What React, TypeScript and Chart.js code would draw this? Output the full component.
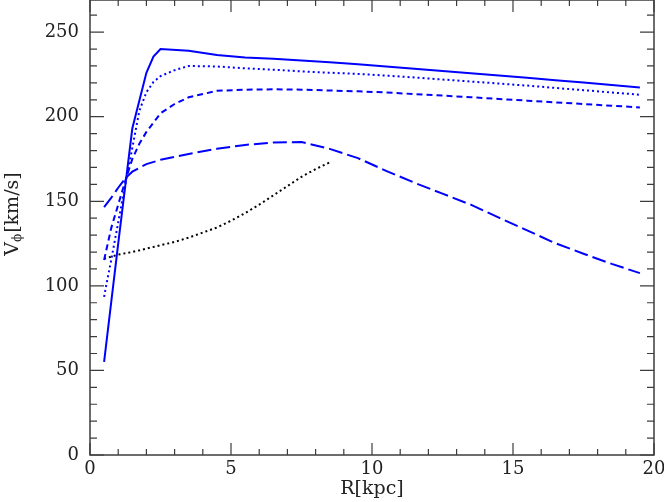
import React, { useEffect, useRef } from "react";
import { Chart, registerables } from "chart.js";

Chart.register(...registerables);

// Solid blue curve
const solidR = [0.5, 1.0, 1.5, 2.0, 2.25, 2.5, 3.5, 4.5, 5.5, 6.5, 7.5, 8.5, 9.5, 10.5, 11.5, 12.5, 13.5, 14.5, 15.5, 16.5, 17.5, 18.5, 19.5];
const solidV = [55, 125, 193, 226, 235.5, 240, 239, 236.5, 235, 234.2, 233.3, 232.2, 231, 229.7, 228.3, 227, 225.7, 224.3, 223, 221.6, 220.2, 218.7, 217.2];

// Blue fine-dotted curve
const dotR = [0.5, 0.6, 0.75, 1.0, 1.25, 1.5, 1.75, 2.0, 2.25, 2.5, 3.0, 3.5, 4.5, 5.5, 6.5, 7.5, 8.5, 9.5, 10.5, 11.5, 12.5, 13.5, 14.5, 15.5, 16.5, 17.5, 18.5, 19.5];
const dotV = [93.5, 102.5, 115, 137.5, 160, 181.5, 203.5, 214.5, 220.5, 224, 227.5, 230, 229.7, 228.6, 227.8, 226.8, 226, 225.3, 224.3, 223.2, 222, 220.8, 219.6, 218.4, 217, 215.7, 214.3, 213];

// Blue short-dashed curve
const shortR = [0.5, 0.75, 1.0, 1.25, 1.5, 1.75, 2.0, 2.5, 3.0, 3.5, 4.5, 5.5, 6.5, 7.5, 8.5, 9.5, 10.5, 11.5, 12.5, 13.5, 14.5, 15.5, 16.5, 17.5, 18.5, 19.5];
const shortV = [115.3, 134, 148, 162, 175, 184, 191, 202, 207.5, 211.5, 215.3, 216, 216.2, 216, 215.5, 215, 214.3, 213.4, 212.5, 211.5, 210.5, 209.5, 208.5, 207.5, 206.5, 205.5];

// Blue long-dashed curve
const longR = [0.5, 0.75, 1.0, 1.25, 1.5, 2.0, 2.5, 3.5, 4.5, 5.5, 6.5, 7.5, 8.5, 9.5, 10.5, 11.5, 12.5, 13.5, 14.5, 15.5, 16.5, 17.5, 18.5, 19.5];
const longV = [146.5, 152, 158, 163.5, 167.5, 172, 174.5, 178, 181, 183.3, 184.8, 185, 181, 175.5, 168, 161, 154.5, 148, 140.3, 132.8, 125.2, 119, 113, 107.5];

// Black dotted curve
const blackR = [0.5, 1.0, 1.5, 2.0, 2.5, 3.0, 3.5, 4.0, 4.5, 5.0, 5.5, 6.0, 6.5, 7.0, 7.5, 8.0, 8.5];
const blackV = [116, 118.5, 120, 122, 124, 126, 128.5, 131.5, 134.5, 138.5, 143, 148, 153.5, 159, 164.5, 169, 173];

// Axes
const xMajor = [0, 5, 10, 15, 20];
const xMinor = [1, 2, 3, 4, 6, 7, 8, 9, 11, 12, 13, 14, 16, 17, 18, 19];
const yMajor = [0, 50, 100, 150, 200, 250];
const yMinor = [10, 20, 30, 40, 60, 70, 80, 90, 110, 120, 130, 140, 160, 170, 180, 190, 210, 220, 230, 240, 260];
const xTitle = "R[kpc]";
const yTitleMain = "V";
const yTitleSub = "\u03D5";
const yTitleRest = "[km/s]";

const pts = (r: number[], v: number[]) => r.map((x, i) => ({ x, y: v[i] }));

const FONT = "'DejaVu Serif', serif";
const TEXT = "#222";

const frameTicks = {
  id: "frameTicks",
  afterDatasetsDraw(chart: any) {
    const { ctx, chartArea: a, scales } = chart;
    const x = scales.x;
    const y = scales.y;
    ctx.save();
    ctx.strokeStyle = "#3c3c3c";
    ctx.lineWidth = 1.5;
    ctx.strokeRect(a.left, a.top, a.right - a.left, a.bottom - a.top);
    ctx.lineWidth = 1.2;
    ctx.beginPath();
    const xt = (v: number, len: number) => {
      const px = x.getPixelForValue(v);
      ctx.moveTo(px, a.bottom);
      ctx.lineTo(px, a.bottom - len);
      ctx.moveTo(px, a.top);
      ctx.lineTo(px, a.top + len);
    };
    const yt = (v: number, len: number) => {
      const py = y.getPixelForValue(v);
      ctx.moveTo(a.left, py);
      ctx.lineTo(a.left + len, py);
      ctx.moveTo(a.right, py);
      ctx.lineTo(a.right - len, py);
    };
    xMajor.forEach((v) => xt(v, 12));
    xMinor.forEach((v) => xt(v, 6));
    yMajor.forEach((v) => yt(v, 14));
    yMinor.forEach((v) => yt(v, 7));
    ctx.stroke();

    // tick labels
    ctx.fillStyle = TEXT;
    ctx.font = `18px ${FONT}`;
    ctx.textBaseline = "middle";
    ctx.textAlign = "center";
    xMajor.forEach((v) => ctx.fillText(String(v), x.getPixelForValue(v), a.bottom + 14));
    ctx.textAlign = "right";
    yMajor.forEach((v) => ctx.fillText(String(v), a.left - 11, y.getPixelForValue(v)));

    // y-axis title with subscript
    ctx.translate(13, 214);
    ctx.rotate(-Math.PI / 2);
    ctx.textBaseline = "middle";
    ctx.textAlign = "left";
    const big = `19px ${FONT}`;
    const small = `12px ${FONT}`;
    ctx.font = big;
    const w1 = ctx.measureText(yTitleMain).width;
    const w3 = ctx.measureText(yTitleRest).width;
    ctx.font = small;
    const w2 = ctx.measureText(yTitleSub).width;
    let cx = -(w1 + w2 + w3 + 1) / 2;
    ctx.font = big;
    ctx.fillText(yTitleMain, cx, 0);
    cx += w1;
    ctx.font = small;
    ctx.fillText(yTitleSub, cx, 5);
    cx += w2 + 1;
    ctx.font = big;
    ctx.fillText(yTitleRest, cx, 0);
    ctx.restore();
  },
};

export default function App() {
  const ref = useRef<HTMLCanvasElement | null>(null);
  useEffect(() => {
    if (!ref.current) return;
    const blue = "#0000ff";
    const chart = new Chart(ref.current, {
      type: "line",
      data: {
        datasets: [
          { data: pts(solidR, solidV), borderColor: blue, borderWidth: 2, pointRadius: 0, tension: 0, fill: false },
          { data: pts(dotR, dotV), borderColor: blue, borderWidth: 2, borderDash: [2, 3], pointRadius: 0, tension: 0, fill: false },
          { data: pts(shortR, shortV), borderColor: blue, borderWidth: 2, borderDash: [6, 4], pointRadius: 0, tension: 0, fill: false },
          { data: pts(longR, longV), borderColor: blue, borderWidth: 2, borderDash: [14, 5], pointRadius: 0, tension: 0, fill: false },
          { data: pts(blackR, blackV), borderColor: "#000000", borderWidth: 2, borderDash: [2, 3], pointRadius: 0, tension: 0, fill: false },
        ],
      },
      options: {
        responsive: false,
        animation: false,
        events: [],
        layout: { padding: { top: 0, right: 10, left: 0, bottom: 0 }, autoPadding: false },
        plugins: { legend: { display: false }, tooltip: { enabled: false } },
        scales: {
          x: {
            type: "linear",
            min: 0,
            max: 20,
            grid: { display: false },
            border: { display: false },
            afterBuildTicks: (s: any) => {
              s.ticks = xMajor.map((value) => ({ value }));
            },
            afterFit: (s: any) => {
              s.height = 47;
            },
            ticks: { display: false },
            title: { display: true, text: xTitle, font: { family: FONT, size: 19 }, color: TEXT, padding: { top: 0, bottom: 2 } },
          },
          y: {
            type: "linear",
            min: 0,
            max: 269,
            grid: { display: false },
            border: { display: false },
            afterBuildTicks: (s: any) => {
              s.ticks = yMajor.map((value) => ({ value }));
            },
            afterFit: (s: any) => {
              s.width = 90;
            },
            ticks: { display: false },
          },
        },
      },
      plugins: [frameTicks],
    } as any);
    return () => chart.destroy();
  }, []);
  return (
    <div style={{ position: "absolute", left: 0, top: 0, width: 664, height: 502 }}>
      <canvas ref={ref} width={664} height={502} style={{ display: "block" }} />
    </div>
  );
}
